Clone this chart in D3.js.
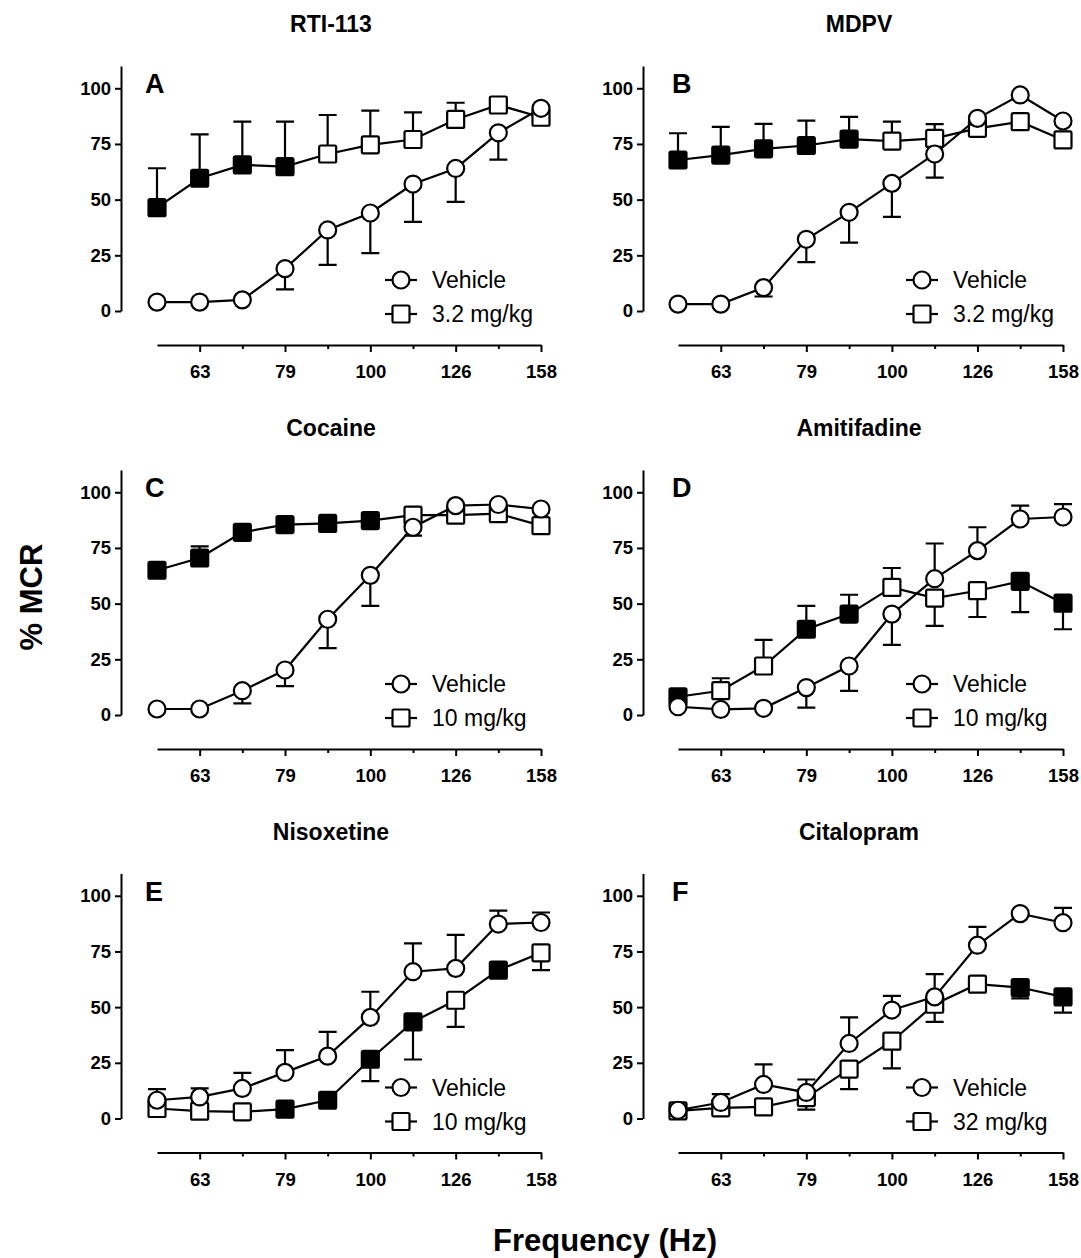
<!DOCTYPE html>
<meta charset="utf-8">
<head>
  <title>% MCR by frequency, six drugs</title>
  <script src="https://d3js.org/d3.v7.min.js"></script>
  <style>
    body { margin: 0; background: #fff; }
    svg { font-family: "Liberation Sans", Arial, sans-serif; }
    .axis path, .axis line { stroke: #000; stroke-width: 2; }
    .axis text { font-size: 18.5px; font-weight: bold; fill: #000; }
  </style>
</head>
<body>
<script>
// frequencies (Hz) and which of them get a label
var freqs = ["56", "63", "71", "79", "89", "100", "112", "126", "141", "158"];
var labeledFreqs = ["63", "79", "100", "126", "158"];
var yTicks = [0, 25, 50, 75, 100];

var drugs = ["RTI-113", "MDPV", "Cocaine", "Amitifadine", "Nisoxetine", "Citalopram"];
var letters = ["A", "B", "C", "D", "E", "F"];
var doses = ["3.2 mg/kg", "3.2 mg/kg", "10 mg/kg", "10 mg/kg", "10 mg/kg", "32 mg/kg"];

// vehicle means / one-sided SEM (sign = direction of the bar)
var vehA = [4, 4, 5, 19, 36.4, 44, 57, 64, 80, 91];
var vehErrA = [0, 0, 0, -9.3, -15.7, -18, -17, -15, -12, 0];
var vehB = [3.1, 3.1, 10.5, 32.2, 44.3, 57.3, 70.5, 86.5, 97, 85.3];
var vehErrB = [0, 0, -4, -10.3, -13.6, -15, -10.6, 0, 0, 0];
var vehC = [2.7, 2.7, 10.9, 20.2, 43, 62.7, 84.3, 94, 94.5, 92.5];
var vehErrC = [0, 0, -5.7, -7.2, -13, -13.7, -3.8, 0, 0, 0];
var vehD = [3.7, 2.5, 3, 12.3, 22, 45.3, 61.2, 73.8, 88, 88.9];
var vehErrD = [0, 0, 0, -9, -11.2, -13.8, 15.8, 10.5, 6, 5.8];
var vehE = [8.2, 9.7, 13.5, 20.7, 28, 45.4, 65.9, 67.4, 87.3, 88];
var vehErrE = [5, 3.8, 7, 10, 10.9, 11.5, 12.7, 15, 6, 4.5];
var vehF = [3.7, 7.2, 15.3, 11.7, 33.7, 48.7, 54.6, 77.8, 92, 87.9];
var vehErrF = [0, 3.7, 9, 5.8, 11.7, 6.4, 10.2, 8.2, 0, 6.7];

// drug dose means / SEM, and filled = significantly different from vehicle
var drugA = [46.4, 59.6, 65.6, 64.8, 70.5, 74.6, 77, 86, 92.5, 87];
var drugErrA = [17.7, 19.7, 19.4, 20.2, 17.5, 15.4, 12.2, 7.5, 3.3, 0];
var filledA = [1, 1, 1, 1, 0, 0, 0, 0, 0, 0];
var drugB = [67.8, 70, 72.8, 74.3, 77.2, 76.3, 77.5, 82, 85, 76.8];
var drugErrB = [12, 12.7, 11.2, 11.2, 10, 8.7, 6.4, 0, 0, 0];
var filledB = [1, 1, 1, 1, 1, 0, 0, 0, 0, 0];
var drugC = [65, 70.5, 82, 85.5, 86, 87.3, 89.7, 89.7, 90.4, 85];
var drugErrC = [0, 5.2, 0, 0, 0, 0, 0, 0, 0, 0];
var filledC = [1, 1, 1, 1, 1, 1, 0, 0, 0, 0];
var drugD = [8.2, 10.9, 22, 38.5, 45.3, 57.3, 52.5, 55.8, 60, 50.2];
var drugErrD = [0, 5.6, 11.7, 10.5, 8.7, 8.7, -12.5, -11.8, -13.8, -11.7];
var filledD = [1, 0, 0, 1, 1, 0, 0, 0, 1, 1];
var drugE = [4.5, 3.3, 3, 4.2, 8.2, 26.6, 43.4, 53.1, 66.6, 74.4];
var drugErrE = [0, 0, 0, 0, 0, -9.8, -16.9, -12, 0, -7.8];
var filledE = [0, 0, 0, 1, 1, 1, 1, 0, 1, 0];
var drugF = [3.4, 4.8, 5.2, 9.4, 22.2, 34.7, 51.3, 60.3, 58.8, 54.6];
var drugErrF = [0, 0, 0, -5.4, -9, -12.2, -7.9, 0, -4.9, -7.1];
var filledF = [0, 0, 0, 0, 0, 0, 0, 0, 1, 1];

var panels = [
  {veh: vehA, vehErr: vehErrA, drug: drugA, drugErr: drugErrA, filled: filledA},
  {veh: vehB, vehErr: vehErrB, drug: drugB, drugErr: drugErrB, filled: filledB},
  {veh: vehC, vehErr: vehErrC, drug: drugC, drugErr: drugErrC, filled: filledC},
  {veh: vehD, vehErr: vehErrD, drug: drugD, drugErr: drugErrD, filled: filledD},
  {veh: vehE, vehErr: vehErrE, drug: drugE, drugErr: drugErrE, filled: filledE},
  {veh: vehF, vehErr: vehErrF, drug: drugF, drugErr: drugErrF, filled: filledF}
];

var width = 1081, height = 1258;
var svg = d3.select("body").append("svg")
  .attr("width", width).attr("height", height);

// layout of the grid
var yAxisX = [121, 643], xStart = [157, 678], xEnd = [541, 1063];
var zeroY = [311, 715, 1118.5];
var plotH = 245;          // 0..110 on the y axis
var capW = 18, r = 8.5, sq = 17;

panels.forEach(function(p, i) {
  var col = i % 2, row = Math.floor(i / 2);
  var g = svg.append("g");

  var x = d3.scalePoint().domain(freqs).range([xStart[col], xEnd[col]]);
  var y = d3.scaleLinear().domain([0, 110]).range([zeroY[row], zeroY[row] - plotH]);

  // y axis
  g.append("g").attr("class", "axis")
    .attr("transform", "translate(" + yAxisX[col] + ",0)")
    .call(d3.axisLeft(y).tickValues(yTicks).tickSize(6).tickPadding(4).tickSizeOuter(0));

  // x axis, sitting below the plot
  var xAxisY = zeroY[row] + 34;
  var xg = g.append("g").attr("class", "axis")
    .attr("transform", "translate(0," + xAxisY + ")")
    .call(d3.axisBottom(x).tickValues(freqs.slice(1)).tickSize(7).tickPadding(13).tickSizeOuter(0)
      .tickFormat(function(d) { return labeledFreqs.indexOf(d) >= 0 ? d : ""; }));
  xg.selectAll(".tick line").attr("y2", function(d) { return labeledFreqs.indexOf(d) >= 0 ? 7 : 4; });

  // title and letter
  svg.append("text")
    .attr("x", (yAxisX[col] + xEnd[col]) / 2 + col * 6).attr("y", zeroY[row] - 279)
    .attr("text-anchor", "middle").style("font-size", "23px").style("font-weight", "bold")
    .text(drugs[i]);
  svg.append("text")
    .attr("x", yAxisX[col] + 24 + col * 5).attr("y", zeroY[row] - 218)
    .style("font-size", "27px").style("font-weight", "bold")
    .text(letters[i]);

  function series(vals, errs, shape, filled) {
    var pts = vals.map(function(v, k) { return {f: freqs[k], v: v, e: errs[k], fill: filled ? filled[k] : 0}; });
    var s = g.append("g");
    // one-sided error bars
    s.selectAll(".eb").data(pts.filter(function(d) { return d.e !== 0; })).enter()
      .append("path")
      .attr("d", function(d) {
        var cx = x(d.f), y1 = y(d.v), y2 = y(d.v + d.e);
        return "M" + cx + "," + y1 + "V" + y2 + "M" + (cx - capW / 2) + "," + y2 + "H" + (cx + capW / 2);
      })
      .attr("stroke", "#000").attr("stroke-width", 2.2).attr("fill", "none");
    s.append("path").datum(pts)
      .attr("d", d3.line().x(function(d) { return x(d.f); }).y(function(d) { return y(d.v); }))
      .attr("stroke", "#000").attr("stroke-width", 2.2).attr("fill", "none");
    if (shape === "circle") {
      s.selectAll("circle").data(pts).enter().append("circle")
        .attr("cx", function(d) { return x(d.f); }).attr("cy", function(d) { return y(d.v); })
        .attr("r", r).attr("fill", "#fff").attr("stroke", "#000").attr("stroke-width", 2.2);
    } else {
      s.selectAll("rect").data(pts).enter().append("rect")
        .attr("x", function(d) { return x(d.f) - sq / 2; }).attr("y", function(d) { return y(d.v) - sq / 2; })
        .attr("width", sq).attr("height", sq).attr("rx", 1.5)
        .attr("fill", function(d) { return d.fill ? "#000" : "#fff"; })
        .attr("stroke", "#000").attr("stroke-width", 2.2);
    }
  }
  series(p.drug, p.drugErr, "square", p.filled);
  series(p.veh, p.vehErr, "circle", null);

  // legend
  var lx = col === 0 ? 401 : 922;
  var rows = [{label: "Vehicle", shape: "circle", dy: -31}, {label: doses[i], shape: "square", dy: 3}];
  rows.forEach(function(l) {
    var ly = zeroY[row] + l.dy;
    var lg = g.append("g");
    lg.append("line").attr("x1", lx - 16).attr("x2", lx + 16).attr("y1", ly).attr("y2", ly)
      .attr("stroke", "#000").attr("stroke-width", 2.2);
    if (l.shape === "circle") {
      lg.append("circle").attr("cx", lx).attr("cy", ly).attr("r", r)
        .attr("fill", "#fff").attr("stroke", "#000").attr("stroke-width", 2.2);
    } else {
      lg.append("rect").attr("x", lx - sq / 2).attr("y", ly - sq / 2).attr("width", sq).attr("height", sq)
        .attr("rx", 1.5).attr("fill", "#fff").attr("stroke", "#000").attr("stroke-width", 2.2);
    }
    lg.append("text").attr("x", lx + 31).attr("y", ly + 8)
      .style("font-size", "23px").text(l.label);
  });
});

// shared axis titles
svg.append("text")
  .attr("transform", "translate(42,597) rotate(-90)")
  .attr("text-anchor", "middle").style("font-size", "31px").style("font-weight", "bold")
  .text("% MCR");
svg.append("text")
  .attr("x", 605).attr("y", 1251)
  .attr("text-anchor", "middle").style("font-size", "31px").style("font-weight", "bold")
  .text("Frequency (Hz)");
</script>
</body>
</html>
